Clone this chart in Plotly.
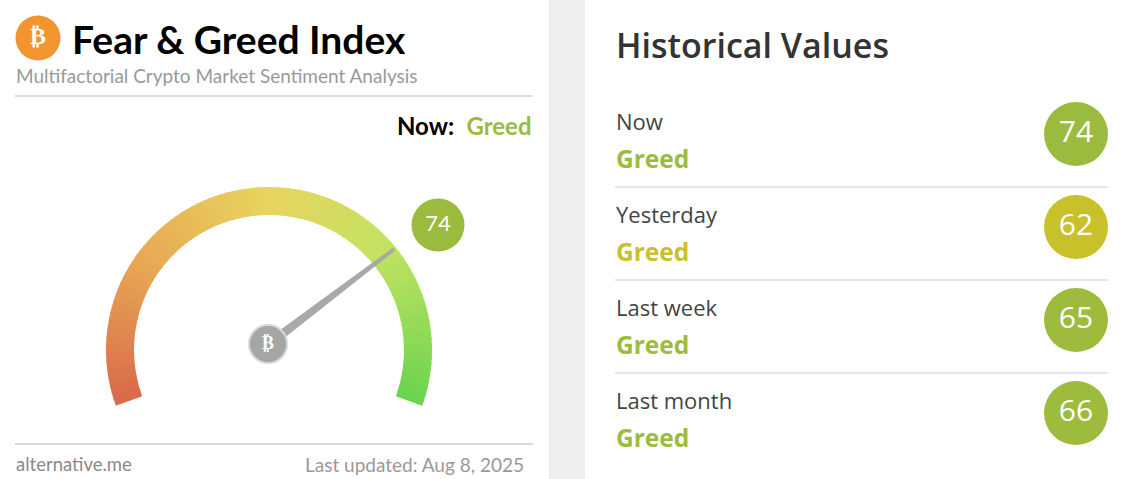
import numpy as np
import plotly.graph_objects as go

# ---- data ----
now_value = 74
now_label = "Greed"
hist_periods = ["Now", "Yesterday", "Last week", "Last month"]
hist_values = [74, 62, 65, 66]
hist_labels = ["Greed", "Greed", "Greed", "Greed"]
hist_colors = ["#9bbb3e", "#c9c12a", "#9dbc3e", "#9dbc3e"]
title = "Fear & Greed Index"
subtitle = "Multifactorial Crypto Market Sentiment Analysis"
source = "alternative.me"
updated = "Last updated: Aug 8, 2025"

W, H = 1134, 479
fig = go.Figure()

# gauge geometry
cx, cy = 269, 350
r_out, r_in = 163, 135
a_start, a_end = 200.0, -20.0  # degrees, value 0 -> 100

def ang(v):
    return np.radians(a_start + (a_end - a_start) * v / 100.0)

stops = [(0, (217, 104, 74)), (25, (232, 168, 85)), (50, (232, 212, 94)),
         (72, (196, 226, 98)), (100, (106, 212, 80))]

def col(v):
    for (v0, c0), (v1, c1) in zip(stops[:-1], stops[1:]):
        if v0 <= v <= v1:
            t = (v - v0) / (v1 - v0)
            c = [round(c0[i] + (c1[i] - c0[i]) * t) for i in range(3)]
            return f"rgb({c[0]},{c[1]},{c[2]})"
    return "rgb(0,0,0)"

N = 100
for i in range(N):
    v0, v1 = i * 100 / N, (i + 1.3) * 100 / N if i < N - 1 else 100
    t = np.linspace(ang(v0), ang(v1), 4)
    xs = list(cx + r_out * np.cos(t)) + list(cx + r_in * np.cos(t[::-1]))
    ys = list(cy - r_out * np.sin(t)) + list(cy - r_in * np.sin(t[::-1]))
    fig.add_trace(go.Scatter(x=xs + [xs[0]], y=ys + [ys[0]], fill="toself",
                             fillcolor=col((v0 + v1) / 2), mode="lines",
                             line=dict(width=0), hoverinfo="skip", showlegend=False))

# needle
a = ang(now_value)
tip_r = 157
perp = a + np.pi / 2
bx, by = 4.5 * np.cos(perp), 4.5 * np.sin(perp)
nx = [cx + bx, cx + tip_r * np.cos(a) + 1.5 * np.cos(perp), cx + tip_r * np.cos(a) - 1.5 * np.cos(perp), cx - bx, cx + bx]
ny = [cy - 6 - by, cy - 6 - tip_r * np.sin(a) - 1.5 * np.sin(perp), cy - 6 - tip_r * np.sin(a) + 1.5 * np.sin(perp), cy - 6 + by, cy - 6 - by]
fig.add_trace(go.Scatter(x=nx, y=ny, fill="toself", fillcolor="#a9a9a9", mode="lines",
                         line=dict(width=0.5, color="#999"), hoverinfo="skip", showlegend=False))
# pin
fig.add_trace(go.Scatter(x=[cx - 1], y=[cy - 6], mode="markers+text", text=["<b>₿</b>"],
                         textfont=dict(color="white", size=18, family="Lato"),
                         marker=dict(size=38, color="#a6a6a6", line=dict(color="#d8d8d8", width=2)),
                         hoverinfo="skip", showlegend=False))
# gauge badge
fig.add_trace(go.Scatter(x=[438], y=[225], mode="markers+text", text=[str(now_value)],
                         textfont=dict(color="white", size=22, family="Lato"),
                         marker=dict(size=53, color=hist_colors[0]),
                         hoverinfo="skip", showlegend=False))
# bitcoin logo
fig.add_trace(go.Scatter(x=[38], y=[38], mode="markers+text", text=["<b>₿</b>"],
                         textfont=dict(color="white", size=24, family="Lato"),
                         marker=dict(size=45, color="#f29530"),
                         hoverinfo="skip", showlegend=False))

# historical badges
row_y = [134, 227, 320, 413]
fig.add_trace(go.Scatter(x=[1076] * 4, y=row_y, mode="markers+text",
                         text=[str(v) for v in hist_values],
                         textfont=dict(color="white", size=30, family="Open Sans"),
                         marker=dict(size=64, color=hist_colors),
                         hoverinfo="skip", showlegend=False))

ann = []
def t(x, y, s, size, color, anchor="left", family="Lato", weight="normal"):
    ann.append(dict(x=x, y=y, xref="x", yref="y", text=s, showarrow=False, xanchor=anchor,
                    yanchor="middle", font=dict(size=size, color=color, family=family, weight=weight)))

t(70, 39, f"<b>{title}</b>", 39, "#000")
t(14, 75, subtitle, 19, "#999")
t(534, 125, f"<b>Now:</b>  <b><span style='color:#9bbb40'>{now_label}</span></b>", 24, "#000", "right")
t(14, 464, source, 18.5, "#8a8a8a")
t(526, 464, updated, 19, "#999", "right")
t(614, 45, "Historical Values", 34, "#333", family="Open Sans", weight=600)
for i, (p, l) in enumerate(zip(hist_periods, hist_labels)):
    t(614, 121 + 93 * i, p, 22, "#444", family="Open Sans")
    t(614, 158 + 93 * i, l, 24.5, hist_colors[i], family="Open Sans", weight=700)

shapes = [
    dict(type="rect", x0=549, x1=585, y0=0, y1=H, fillcolor="#eeeeee", line=dict(width=0), layer="below"),
    dict(type="line", x0=15, x1=533, y0=96, y1=96, line=dict(color="#bbb", width=1)),
    dict(type="line", x0=15, x1=533, y0=444, y1=444, line=dict(color="#ccc", width=1.5)),
]
for i in range(3):
    shapes.append(dict(type="line", x0=615, x1=1108, y0=187 + 93 * i, y1=187 + 93 * i,
                       line=dict(color="#ccc", width=1)))

fig.update_layout(width=W, height=H, margin=dict(l=0, r=0, t=0, b=0),
                  paper_bgcolor="white", plot_bgcolor="white",
                  xaxis=dict(range=[0, W], visible=False, fixedrange=True),
                  yaxis=dict(range=[H, 0], visible=False, fixedrange=True),
                  annotations=ann, shapes=shapes, showlegend=False)
fig.write_html("out.html", config=dict(displayModeBar=False),
               post_script="document.body.style.margin='0';document.body.style.overflow='hidden';")
